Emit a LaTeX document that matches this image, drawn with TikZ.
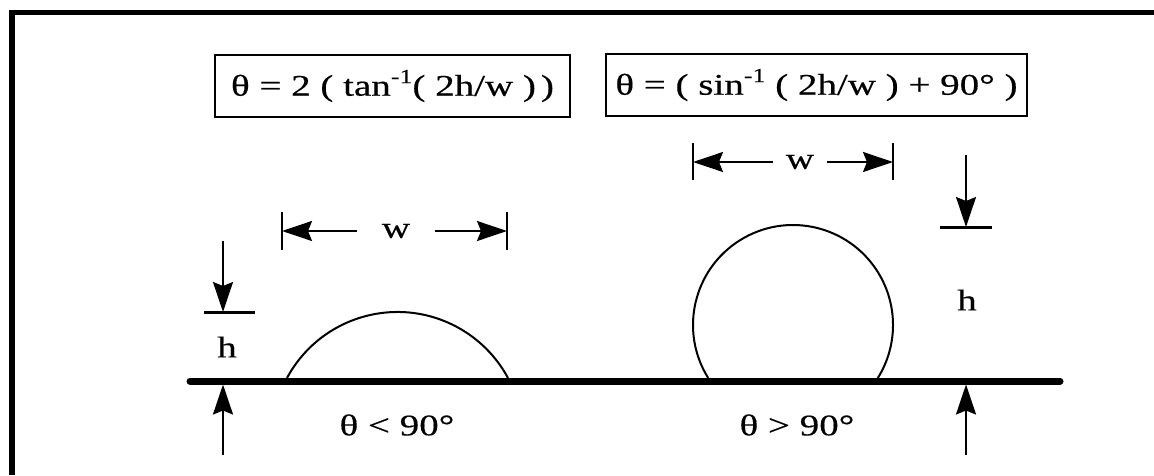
\documentclass[tikz,border=0pt]{standalone}
\usepackage{fontspec}
\setmainfont{Liberation Serif}
\newfontfamily\scanfont{Liberation Serif}[FakeStretch=1.3,FakeBold=0.4]
\usepackage{tikz}
\usetikzlibrary{arrows.meta}
\newcommand{\expo}[1]{\raisebox{0.42em}{\fontsize{20}{20}\selectfont #1}}

\begin{document}
\begin{tikzpicture}[x=1pt,y=1pt,
    txt/.style={font=\scanfont\fontsize{30}{32}\selectfont,inner sep=0pt},
    formula/.style={txt,draw,line width=1.6pt,minimum height=62pt},
    dim/.style={line width=2pt,-{Stealth[length=30pt,width=20pt,inset=4pt]}},
    tick/.style={line width=2.5pt},
    bar/.style={line width=3pt},
    drop/.style={line width=2pt}]
  \useasboundingbox (0,0) rectangle (1154,475);
  % frame, cut by the page on the right and below
  \draw[line width=5.5pt] (12,0) -- (12,462.5) -- (1154,462.5);
  % formulas
  \node[formula,minimum width=355pt] (fa) at (392.5,389) {θ = 2 ( tan\expo{-1}( 2h/w )\,)};
  \node[formula,minimum width=421pt] (fb) at (816.5,390) {θ = ( sin\expo{-1} ( 2h/w ) + 90° )};
  % surface
  \draw[line width=7pt,line cap=round] (190,94) -- (1060,94);
  % drops
  \draw[drop] (287,97) arc[start angle=151.7,end angle=28.3,radius=125.5];
  \draw[drop] (708.2,97) arc[start angle=212,end angle=-32,radius=100];
  % widths
  \coordinate (la) at (282,244);
  \coordinate (lb) at (507,244);
  \coordinate (ra) at (693,313);
  \coordinate (rb) at (893,313);
  \draw[tick] (282,225) -- (282,263) (507,225) -- (507,263);
  \draw[tick] (693,295) -- (693,332) (893,295) -- (893,332);
  \node[txt,inner xsep=25pt] (wl) at (396,244) {w};
  \node[txt,inner xsep=13pt] (wr) at (800,313) {w};
  \draw[dim] (wl.west) -- (la);
  \draw[dim] (wl.east) -- (lb);
  \draw[dim] (wr.west) -- (ra);
  \draw[dim] (wr.east) -- (rb);
  % heights
  \coordinate (hla) at (223,163);
  \coordinate (hlb) at (223,90.5);
  \coordinate (hra) at (966,248);
  \coordinate (hrb) at (966,90.5);
  \coordinate (sla) at (223,234);
  \coordinate (slb) at (223,20);
  \coordinate (sra) at (966,320);
  \coordinate (srb) at (966,20);
  \draw[bar] (204,163) -- (255,163);
  \draw[bar] (940,248) -- (992,248);
  \draw[dim] (sla) -- (hla);
  \draw[dim] (slb) -- (hlb);
  \draw[dim] (sra) -- (hra);
  \draw[dim] (srb) -- (hrb);
  \node[txt] (hl) at (227,128) {h};
  \node[txt] (hr) at (967,175) {h};
  % angles
  \node[txt] (tl) at (397,50) {θ < 90°};
  \node[txt] (tr) at (797,50) {θ > 90°};
\end{tikzpicture}
\end{document}
